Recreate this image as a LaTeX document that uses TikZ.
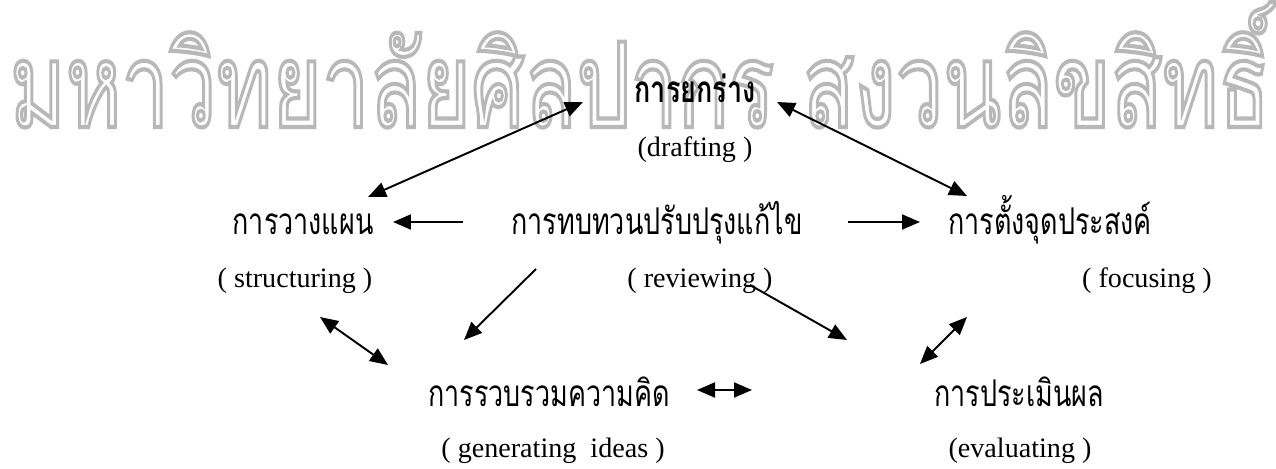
\documentclass[tikz,border=0pt]{standalone}
\usepackage{fontspec}
\setmainfont{Liberation Serif}
\newfontfamily\thaifont[Script=Thai,FakeStretch=0.73]{Loma}
\newfontfamily\markfont[Script=Thai]{Loma}
\usetikzlibrary{arrows.meta}

\tikzset{
    thai/.style={anchor=base, inner sep=0pt, font=\thaifont\fontsize{21pt}{25pt}\selectfont},
    eng/.style={anchor=base, inner sep=0pt, font=\fontsize{16pt}{19pt}\selectfont},
    stamp/.style={anchor=base, inner sep=0pt, text=black!28}
}

\begin{document}
\begin{tikzpicture}[
    x = 0.02cm, y = -0.02cm, % one unit per pixel
    > = {Triangle[length=0.36cm, width=0.3cm]}, % arrow head style
    line width = 1.1pt % line style
]
\useasboundingbox (0,0) rectangle (1276,469);

% Watermark
\node[stamp] (mark) at (640,127) {\resizebox{25.2cm}{2.5cm}{\markfont\special{pdf:literal direct 1 Tr 0.35 w}มหาวิทยาลัยศิลปากร สงวนลิขสิทธิ์\special{pdf:literal direct 0 Tr}}};

% Nodes
\node[thai, font=\thaifont\bfseries\fontsize{21pt}{25pt}\selectfont] (draft) at (695,103) {การยกร่าง};
\node[eng] (draftE) at (695,157) {(drafting )};
\node[thai] (plan) at (303,235) {การวางแผน};
\node[eng] (planE) at (295,288) {( structuring )};
\node[thai] (review) at (657,235) {การทบทวนปรับปรุงแก้ไข};
\node[eng] (reviewE) at (700,288) {( reviewing )};
\node[thai] (focus) at (1050,235) {การตั้งจุดประสงค์};
\node[eng] (focusE) at (1147,288) {( focusing )};
\node[thai] (gen) at (549,407) {การรวบรวมความคิด};
\node[eng] (genE) at (553,458) {( generating~~ideas )};
\node[thai] (eval) at (1019,407) {การประเมินผล};
\node[eng] (evalE) at (1020,458) {(evaluating )};

% Edges
\draw[<->] ([shift={(-112,-1)}]draft.base) -- ([shift={(65,-38)}]plan.base);
\draw[<->] ([shift={(82,-1)}]draft.base) -- ([shift={(-83,-39)}]focus.base);
\draw[->] ([shift={(-194,-13)}]review.base) -- ([shift={(90,-13)}]plan.base);
\draw[->] ([shift={(191,-13)}]review.base) -- ([shift={(-130,-13)}]focus.base);
\draw[->] ([shift={(-121,34)}]review.base) -- ([shift={(-85,-67)}]gen.base);
\draw[->] ([shift={(50,-3)}]reviewE.base) -- ([shift={(-172,-67)}]eval.base);
\draw[<->] ([shift={(25,29)}]planE.base) -- ([shift={(-161,-42)}]gen.base);
\draw[<->] ([shift={(-180,29)}]focusE.base) -- ([shift={(-99,-43)}]eval.base);
\draw[<->] ([shift={(148,-17)}]gen.base) -- ([shift={(-267,-17)}]eval.base);

\end{tikzpicture}
\end{document}
